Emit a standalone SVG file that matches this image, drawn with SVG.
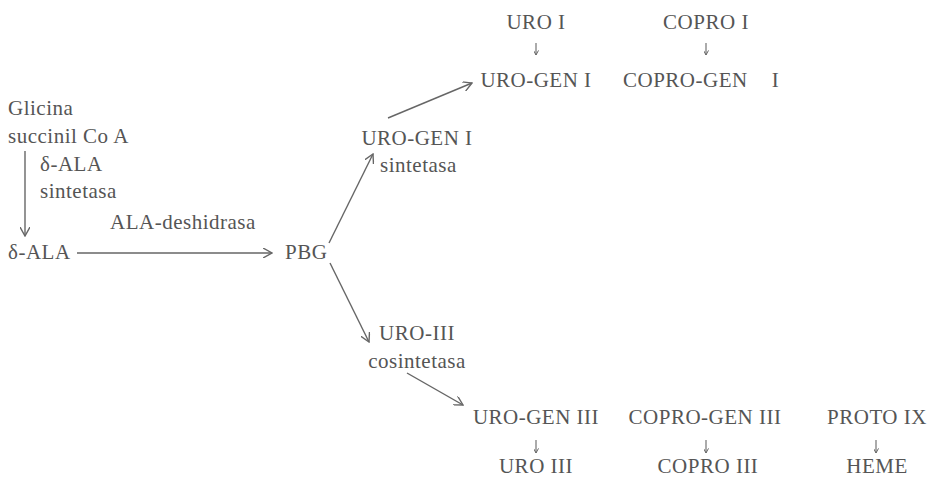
<svg xmlns="http://www.w3.org/2000/svg" width="931" height="482" viewBox="0 0 931 482">
<defs>
<style>
text{font-family:"Liberation Serif","Times New Roman",serif;font-size:21px;fill:#555;letter-spacing:0.5px}
.m{text-anchor:middle}
.c line,.c path{stroke:#666;stroke-width:1.4;fill:none}
.c .s{stroke-width:1.1}
</style>
<marker id="ah" viewBox="0 0 10 10" refX="9" refY="5" markerWidth="10" markerHeight="10" markerUnits="userSpaceOnUse" orient="auto">
<path d="M0,0 L9,5 L0,10" fill="none" stroke="#666" stroke-width="1.4"/>
</marker>
<marker id="sh" viewBox="0 0 6 6" refX="5.5" refY="3" markerWidth="5" markerHeight="5" markerUnits="userSpaceOnUse" orient="auto">
<path d="M0,0 L5.5,3 L0,6" fill="none" stroke="#666" stroke-width="1.2"/>
</marker>
</defs>
<rect width="931" height="482" fill="#fff"/>
<g id="connectors" class="c">
<line x1="25" y1="151" x2="25" y2="236" marker-end="url(#ah)"/>
<line x1="77" y1="253" x2="272" y2="253" marker-end="url(#ah)"/>
<line x1="329" y1="243" x2="373" y2="154" marker-end="url(#ah)"/>
<line x1="388" y1="118" x2="472" y2="83" marker-end="url(#ah)"/>
<line x1="330" y1="263" x2="369" y2="342" marker-end="url(#ah)"/>
<line x1="407" y1="373" x2="463" y2="405" marker-end="url(#ah)"/>
<line class="s" x1="536" y1="43" x2="536" y2="55" marker-end="url(#sh)"/>
<line class="s" x1="706" y1="43" x2="706" y2="55" marker-end="url(#sh)"/>
<line class="s" x1="536" y1="440" x2="536" y2="453" marker-end="url(#sh)"/>
<line class="s" x1="706" y1="440" x2="706" y2="453" marker-end="url(#sh)"/>
<line class="s" x1="876" y1="440" x2="876" y2="453" marker-end="url(#sh)"/>
</g>
<g id="glicina"><text x="8" y="115">Glicina</text><text x="8" y="143">succinil Co A</text></g>
<g id="ala-sintetasa"><text x="40" y="171">δ-ALA</text><text x="40" y="198">sintetasa</text></g>
<g id="ala-deshidrasa"><text x="110" y="229">ALA-deshidrasa</text></g>
<g id="ala"><text x="8" y="259">δ-ALA</text></g>
<g id="pbg"><text x="285" y="259">PBG</text></g>
<g id="urogen1-sintetasa"><text class="m" x="417" y="145">URO-GEN I</text><text x="380" y="172">sintetasa</text></g>
<g id="uro1"><text class="m" x="536" y="29">URO I</text></g>
<g id="urogen1"><text class="m" x="536" y="87">URO-GEN I</text></g>
<g id="copro1"><text class="m" x="706" y="29">COPRO I</text></g>
<g id="coprogen1"><text x="623" y="87">COPRO-GEN<tspan dx="24">I</tspan></text></g>
<g id="uro3-cosintetasa"><text class="m" x="417" y="340">URO-III</text><text class="m" x="417" y="368">cosintetasa</text></g>
<g id="urogen3"><text class="m" x="536" y="424">URO-GEN III</text></g>
<g id="uro3"><text class="m" x="536" y="473">URO III</text></g>
<g id="coprogen3"><text class="m" x="705" y="424">COPRO-GEN III</text></g>
<g id="copro3"><text class="m" x="708" y="473">COPRO III</text></g>
<g id="proto9"><text class="m" x="877" y="424">PROTO IX</text></g>
<g id="heme"><text class="m" x="877" y="473">HEME</text></g>
</svg>
